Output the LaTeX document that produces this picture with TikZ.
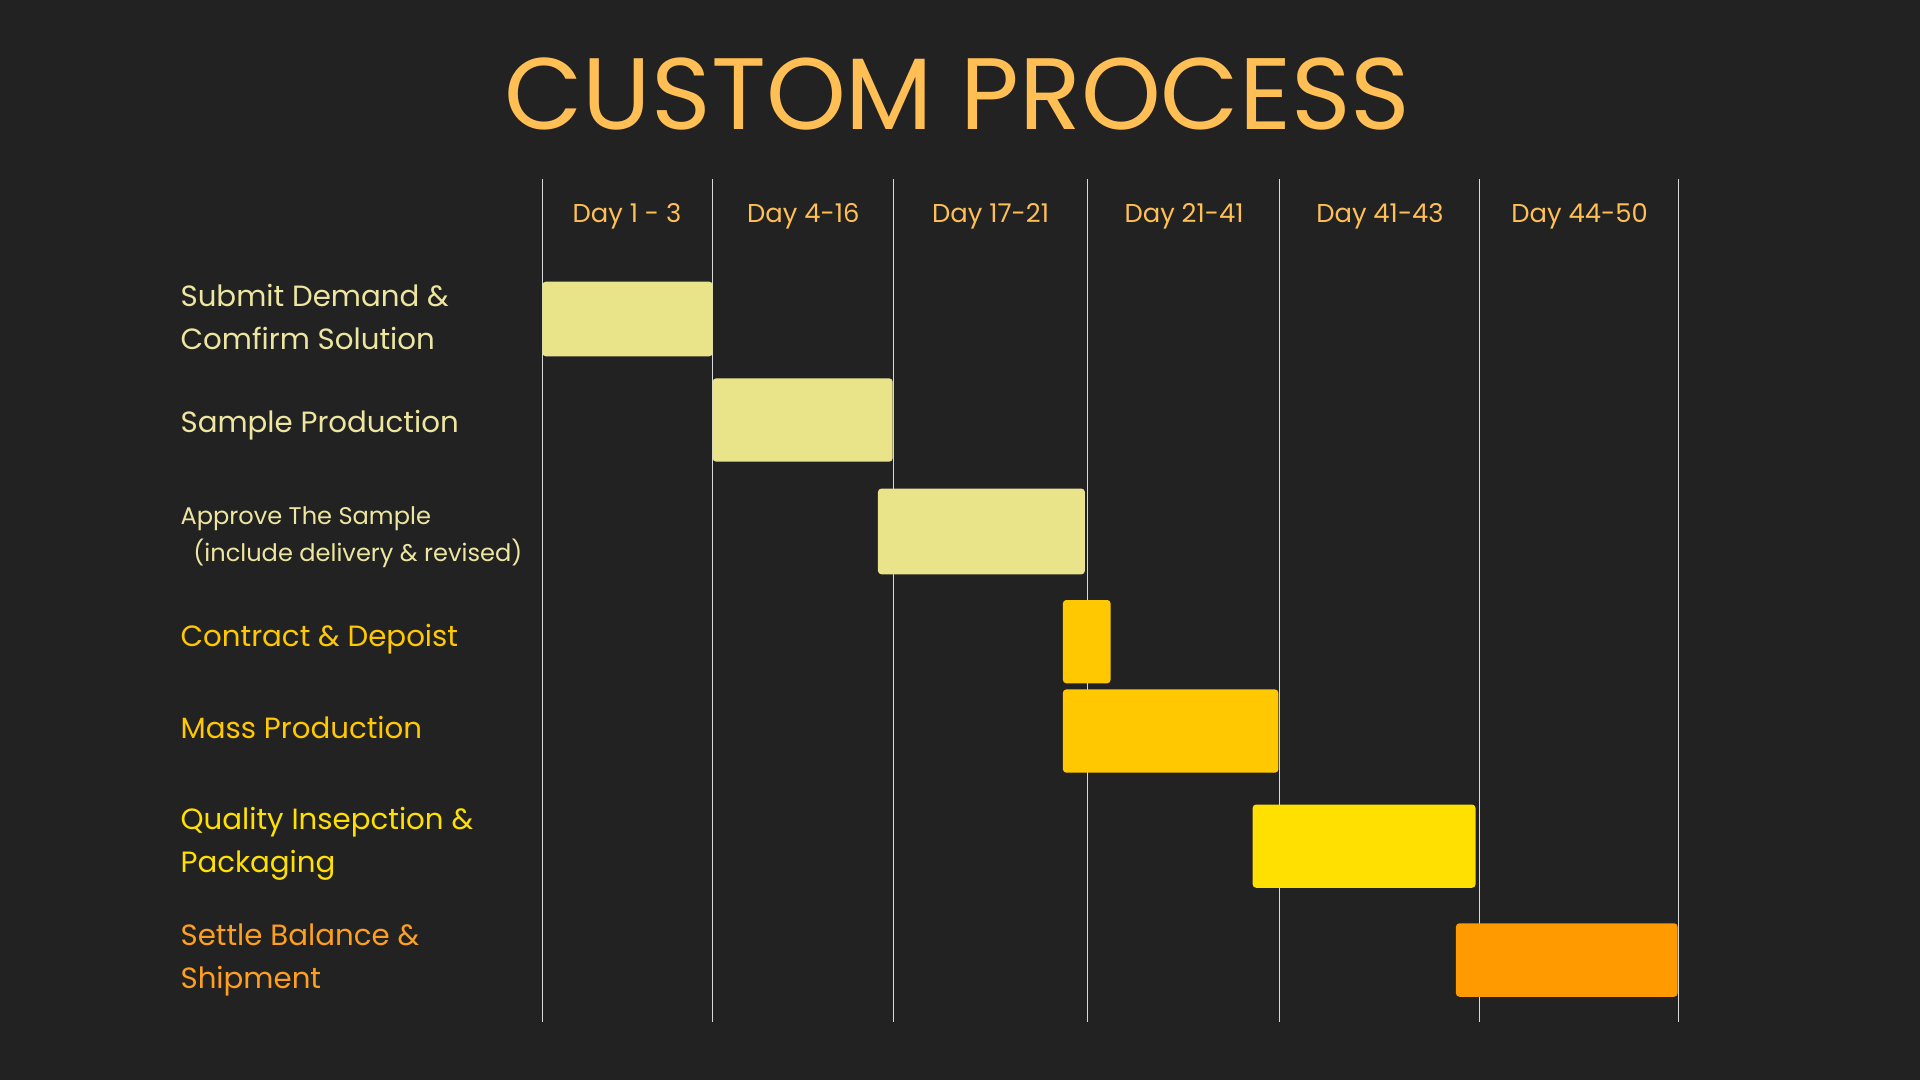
\documentclass[tikz,border=0pt]{standalone}
\usepackage{fontspec}
\setmainfont{Poppins}
\definecolor{bg}{HTML}{222222}
\definecolor{titlec}{HTML}{FFBF55}
\definecolor{pale}{HTML}{E9E38A}
\definecolor{palet}{HTML}{EDE6A0}
\definecolor{gold}{HTML}{FFC800}
\definecolor{yel}{HTML}{FFE000}
\definecolor{ora}{HTML}{FF9A00}
\definecolor{orat}{HTML}{FF9F1F}
\begin{document}
\begin{tikzpicture}[x=0.05cm,y=-0.05cm,
  bar/.style={rounded corners=4pt},
  hdr/.style={text=titlec,font=\fontsize{30}{34}\selectfont},
  lab/.style={anchor=west,align=left,font=\fontsize{34}{50}\selectfont},
  grid/.style={draw=white!85!black,line width=1.2pt}]
\fill[bg] (0,0) rectangle (1568,882);
\useasboundingbox (0,0) rectangle (1568,882);
\node[text=titlec,font=\fontsize{118}{120}\selectfont] (title) at (782,77) {CUSTOM PROCESS};
\foreach \x [count=\i] in {443,582,730,888,1045,1208,1371}{
  \coordinate (t\i) at (\x,146); \coordinate (b\i) at (\x,835);
  \draw[grid] (t\i) -- (b\i);}
\node[hdr] (h1) at (512,177) {Day 1 - 3};
\node[hdr] (h2) at (656,177) {Day 4-16};
\node[hdr] (h3) at (809,177) {Day 17-21};
\node[hdr] (h4) at (967,177) {Day 21-41};
\node[hdr] (h5) at (1127,177) {Day 41-43};
\node[hdr] (h6) at (1290,177) {Day 44-50};
\fill[bar,pale] (443,230) rectangle (582,291);
\fill[bar,pale] (582,309) rectangle (729,377);
\fill[bar,pale] (717,399) rectangle (886,469);
\fill[bar,gold] (868,490) rectangle (907,558);
\fill[bar,gold] (868,563) rectangle (1044,631);
\fill[bar,yel] (1023,657) rectangle (1205,725);
\fill[bar,ora] (1189,754) rectangle (1370,814);
\node[lab,text=palet] (l1) at (145,259) {Submit Demand \&\\Comfirm Solution};
\node[lab,text=palet] (l2) at (145,347) {Sample Production};
\node[lab,text=palet,font=\fontsize{28}{43}\selectfont] (l3) at (145,439) {Approve The Sample\\\ \ (include delivery \& revised)};
\node[lab,text=gold] (l4) at (145,522) {Contract \& Depoist};
\node[lab,text=gold] (l5) at (145,594) {Mass Production};
\node[lab,text=yel] (l6) at (145,689) {Quality Insepction \&\\Packaging};
\node[lab,text=orat] (l7) at (145,784) {Settle Balance \&\\Shipment};
\end{tikzpicture}
\end{document}
